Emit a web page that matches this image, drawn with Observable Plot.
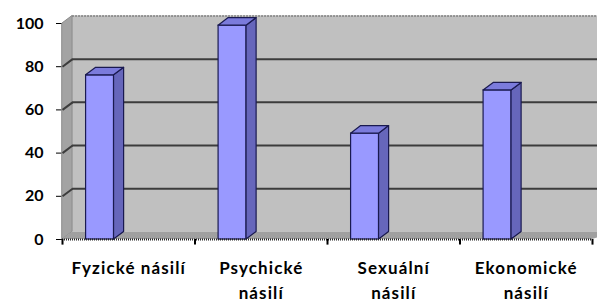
<!DOCTYPE html>
<html>
<head>
<meta charset="utf-8">
<script src="https://cdn.jsdelivr.net/npm/d3@7"></script>
<script src="https://cdn.jsdelivr.net/npm/@observablehq/plot@0.6"></script>
<style>
  html, body { margin: 0; padding: 0; background: #fff; overflow: hidden; }
  g.catlabel text { letter-spacing: 1.1px; }
</style>
</head>
<body>
<div id="chart"></div>
<script>
const categories = ["Fyzické násilí", "Psychické\nnásilí", "Sexuální\nnásilí", "Ekonomické\nnásilí"];
const values = [76, 99, 49, 69];
const yTicks = [0, 20, 40, 60, 80, 100];

// 3D look parameters (in scale units)
const depthX = 0.076;   // horizontal depth offset (x units)
const depthY = 3.5;     // vertical depth offset (y units)
const barStart = 0.178; // bar offset inside category band
const barWidth = 0.211;
const n = categories.length;

const bars = categories.map((c, i) => ({c, i, v: values[i], l1: c.split("\n")[0], l2: c.split("\n")[1] || ""}));
const sidePts = bars.flatMap(d => [
  {c: d.c, x: d.i + barStart + barWidth, y1: 0, y2: d.v},
  {c: d.c, x: d.i + barStart + barWidth + depthX, y1: depthY, y2: d.v + depthY}
]);
const topPts = bars.flatMap(d => [
  {c: d.c, y: d.v, x1: d.i + barStart, x2: d.i + barStart + barWidth},
  {c: d.c, y: d.v + depthY, x1: d.i + barStart + depthX, x2: d.i + barStart + barWidth + depthX}
]);
const bounds = d3.range(n + 1);

const chart = Plot.plot({
  width: 597,
  height: 302,
  marginLeft: 62,
  marginRight: 5,
  marginTop: 23,
  marginBottom: 63,
  style: {fontFamily: "Lato, 'Open Sans', sans-serif", fontSize: "16px", fontWeight: "bold", color: "#000", background: "#fff", overflow: "visible"},
  x: {domain: [0, n], axis: null},
  y: {domain: [0, 100], ticks: yTicks, tickSize: 6, tickPadding: 13, line: true, label: null, tickFormat: d => String(d)},
  marks: [
    // back wall
    Plot.rect([0], {x1: depthX, x2: n + depthX + 0.1, y1: depthY, y2: 100 + depthY, fill: "#c0c0c0"}),
    // left wall
    Plot.areaY([{x: 0, y1: 0, y2: 100}, {x: depthX, y1: depthY, y2: 100 + depthY}], {x: "x", y1: "y1", y2: "y2", fill: "#a3a3a3", stroke: "#8a8a8a", strokeWidth: 1}),
    // floor
    Plot.areaX([{y: 0, x1: 0, x2: n}, {y: depthY, x1: depthX, x2: n + depthX + 0.1}], {y: "y", x1: "x1", x2: "x2", fill: "#a0a0a0"}),
    // gridlines on back wall
    Plot.ruleY(yTicks.slice(1, -1), {y: d => d + depthY, x1: depthX, x2: n + depthX + 0.1, stroke: "#3c3c3c", strokeWidth: 2}),
    // gridlines on left wall
    Plot.link(yTicks.slice(1, -1), {x1: 0, y1: d => d, x2: depthX, y2: d => d + depthY, stroke: "#3c3c3c", strokeWidth: 2}),
    // top border of wall
    Plot.ruleY([100 + depthY], {x1: depthX, x2: n + depthX + 0.1, stroke: "#808080", strokeWidth: 1.5, strokeDasharray: "2 1"}),
    // bars: front faces
    Plot.rectY(bars, {x1: d => d.i + barStart, x2: d => d.i + barStart + barWidth, y1: 0, y2: "v", fill: "#9999ff", stroke: "#1a1a50", strokeWidth: 1.2}),
    // bars: side faces
    Plot.areaY(sidePts, {x: "x", y1: "y1", y2: "y2", z: "c", fill: "#6666bb", stroke: "#1a1a50", strokeWidth: 1.2}),
    // bars: top faces
    Plot.areaX(topPts, {y: "y", x1: "x1", x2: "x2", z: "c", fill: "#7b7bdc", stroke: "#1a1a50", strokeWidth: 1.2}),
    // front floor edge
    Plot.ruleY([0], {x1: 0, x2: n, stroke: "#222", strokeWidth: 2, strokeDasharray: "1 1"}),
    // category tick marks
    Plot.ruleX(bounds, {x: d => d, y1: 0, y2: -2.6, stroke: "#000", strokeWidth: 2}),
    // category labels (two lines)
    Plot.text(bars, {x: d => d.i + 0.5, y: 0, text: "l1", dy: 29, lineAnchor: "middle", fontSize: 17, fontWeight: "bold", fill: "#000"}),
    Plot.text(bars, {x: d => d.i + 0.5, y: 0, text: "l2", dy: 54, lineAnchor: "middle", fontSize: 17, fontWeight: "bold", fill: "#000"})
  ]
});
chart.querySelectorAll('g[aria-label="text"]').forEach(g => g.classList.add("catlabel"));
document.getElementById("chart").append(chart);
</script>
</body>
</html>
